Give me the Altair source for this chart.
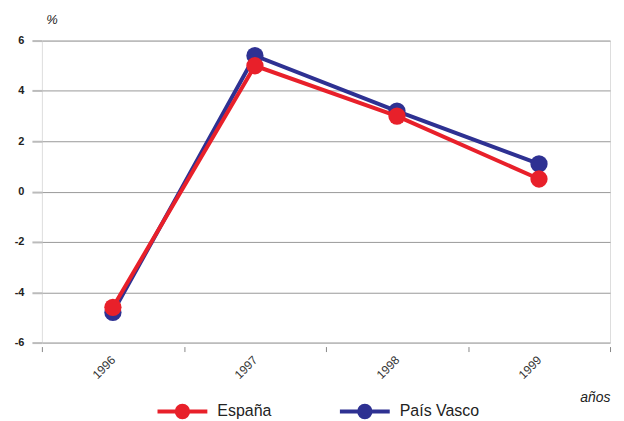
import altair as alt
import pandas as pd

years = ["1996", "1997", "1998", "1999"]
espana = [-4.6, 5.0, 3.0, 0.5]
pais_vasco = [-4.8, 5.4, 3.2, 1.1]
series = ["España", "País Vasco"]
colors = ["#E8202A", "#2E3192"]
y_ticks = [-6, -4, -2, 0, 2, 4, 6]

rows = []
for s, vals in zip(series, [espana, pais_vasco]):
    for yr, v in zip(years, vals):
        rows.append({"año": yr, "valor": v, "serie": s})
df = pd.DataFrame(rows)

sym = "M-1,0L1,0M0.23,0A0.23,0.23,0,1,1,-0.23,0A0.23,0.23,0,1,1,0.23,0Z"

x = alt.X("año:N", sort=years,
          scale=alt.Scale(paddingInner=0, paddingOuter=0),
          axis=alt.Axis(title="años", titleFontStyle="italic", titleFontWeight="normal",
                        titleFontSize=14, titleColor="#222", titleAnchor="end",
                        titleFont="Liberation Sans", titlePadding=10,
                        labelAngle=-45, labelAlign="right", labelBaseline="middle",
                        labelFont="Liberation Sans", labelFontSize=12, labelColor="#333",
                        labelPadding=6, tickBand="extent", tickSize=5, tickOffset=0,
                        tickColor="#888", domain=False, grid=False, offset=4))
y = alt.Y("valor:Q",
          scale=alt.Scale(domain=[-6, 6], nice=False, zero=False),
          axis=alt.Axis(values=y_ticks, title="%", titleAngle=0, titleFontStyle="italic",
                        titleFontWeight="normal", titleFontSize=13, titleColor="#222",
                        titleFont="Liberation Sans", titleX=4, titleY=-14, titleAlign="left",
                        labelFont="Liberation Sans", labelFontWeight="bold", labelFontSize=11,
                        labelColor="#222", labelPadding=8, labelExpr="datum.value + ''",
                        tickSize=10, tickColor="#bbb", tickWidth=2, domain=False,
                        grid=True, gridColor="#999", gridWidth=1, gridOpacity=1))
color = alt.Color("serie:N", scale=alt.Scale(domain=series, range=colors),
                  legend=alt.Legend(title=None, orient="none", direction="horizontal",
                                    legendX=114, legendY=345,
                                    symbolType=sym, symbolSize=2500, symbolStrokeWidth=4,
                                    labelFont="Liberation Sans",
                                    labelFontSize=16,
                                    labelColor="#222", columnPadding=60, labelOffset=8))

layers = []
for s in ["País Vasco", "España"]:
    d = df[df["serie"] == s]
    base = alt.Chart(d).encode(x=x, y=y)
    line = base.mark_line(strokeWidth=4).encode(color=color)
    pts = base.mark_circle(size=300, opacity=1).encode(color=color)
    layers += [line, pts]

chart = alt.layer(*layers).properties(width=570, height=303).configure_view(
    stroke=None).configure(padding={"left": 6, "top": 5, "right": 5, "bottom": 0})

chart.save("out.html", embed_options={"renderer": "svg", "actions": False})
